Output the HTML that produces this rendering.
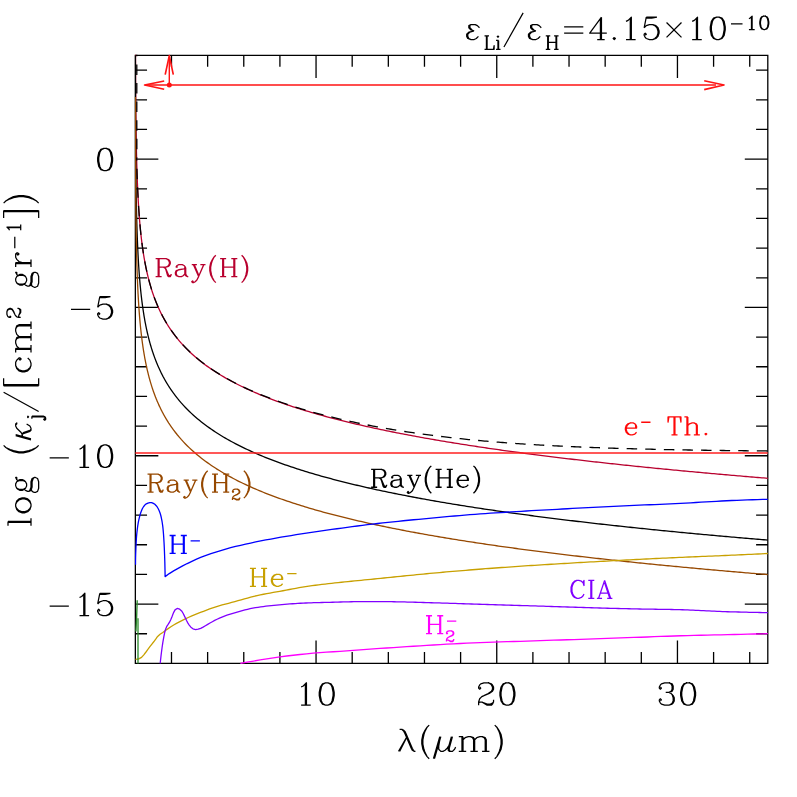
<!DOCTYPE html>
<html><head><meta charset="utf-8"><title>opacity</title>
<style>html,body{margin:0;padding:0;background:#fff;font-family:"Liberation Sans",sans-serif}svg{display:block}</style>
</head><body>
<svg width="797" height="797" viewBox="0 0 797 797">
<rect width="797" height="797" fill="#fff"/>
<defs><clipPath id="c"><rect x="134.75" y="54.699999999999996" width="633.65" height="609.3000000000001"/></clipPath></defs>
<path d="M135.35 55.3H767.8V663.4H135.35ZM171.49 663.4v-11.4M171.49 55.3v11.4M207.63 663.4v-11.4M207.63 55.3v11.4M243.77 663.4v-11.4M243.77 55.3v11.4M279.91 663.4v-11.4M279.91 55.3v11.4M316.05 663.4v-22.8M316.05 55.3v22.8M352.19 663.4v-11.4M352.19 55.3v11.4M388.33 663.4v-11.4M388.33 55.3v11.4M424.47 663.4v-11.4M424.47 55.3v11.4M460.61 663.4v-11.4M460.61 55.3v11.4M496.75 663.4v-22.8M496.75 55.3v22.8M532.89 663.4v-11.4M532.89 55.3v11.4M569.03 663.4v-11.4M569.03 55.3v11.4M605.17 663.4v-11.4M605.17 55.3v11.4M641.31 663.4v-11.4M641.31 55.3v11.4M677.45 663.4v-22.8M677.45 55.3v22.8M713.59 663.4v-11.4M713.59 55.3v11.4M749.73 663.4v-11.4M749.73 55.3v11.4M135.35 633.74h11.7M767.8 633.74h-11.7M135.35 604.07h23M767.8 604.07h-23M135.35 574.41h11.7M767.8 574.41h-11.7M135.35 544.75h11.7M767.8 544.75h-11.7M135.35 515.08h11.7M767.8 515.08h-11.7M135.35 485.42h11.7M767.8 485.42h-11.7M135.35 455.76h23M767.8 455.76h-23M135.35 426.09h11.7M767.8 426.09h-11.7M135.35 396.43h11.7M767.8 396.43h-11.7M135.35 366.77h11.7M767.8 366.77h-11.7M135.35 337.1h11.7M767.8 337.1h-11.7M135.35 307.44h23M767.8 307.44h-23M135.35 277.78h11.7M767.8 277.78h-11.7M135.35 248.11h11.7M767.8 248.11h-11.7M135.35 218.45h11.7M767.8 218.45h-11.7M135.35 188.79h11.7M767.8 188.79h-11.7M135.35 159.12h23M767.8 159.12h-23M135.35 129.46h11.7M767.8 129.46h-11.7M135.35 99.8h11.7M767.8 99.8h-11.7M135.35 70.13h11.7M767.8 70.13h-11.7" stroke="#000" stroke-width="1.3" fill="none" stroke-linecap="butt" stroke-linejoin="miter"/>
<g clip-path="url(#c)">
<path d="M135.41 0.65 135.45 29.53 135.5 47.93 135.54 61.45 135.59 72.16 135.63 81.02 135.68 88.58 135.72 95.17 135.77 101.01 135.81 106.25 135.86 111.01 135.9 115.37 135.95 119.39 135.99 123.12 136.04 126.59 136.08 129.85 136.13 132.91 136.17 135.8 136.22 138.54 136.26 141.14 136.31 143.61 136.35 145.97 136.4 148.23 136.44 150.39 136.48 152.47 136.53 154.47 136.57 156.39 136.62 158.24 136.66 160.03 136.71 161.75 136.75 163.42 136.8 165.04 136.84 166.61 136.89 168.14 136.93 169.62 136.98 171.05 137.02 172.45 137.07 173.82 137.11 175.14 137.16 176.44 137.39 182.62 137.62 188.14 137.85 193.13 138.08 197.68 138.31 201.85 138.54 205.72 138.77 209.31 139 212.67 139.23 215.83 139.46 218.8 139.69 221.61 139.92 224.27 140.15 226.81 140.38 229.22 140.61 231.53 140.84 233.74 141.07 235.85 141.3 237.89 141.54 239.84 141.77 241.73 142 243.55 142.23 245.3 142.46 247 142.69 248.65 142.92 250.24 143.15 251.79 143.38 253.29 143.61 254.74 143.84 256.16 144.07 257.54 144.3 258.89 144.53 260.2 144.76 261.47 144.99 262.72 145.22 263.94 145.45 265.13 145.68 266.29 145.91 267.42 146.14 268.54 146.37 269.62 146.6 270.69 146.83 271.74 147.07 272.76 147.3 273.76 147.53 274.75 147.76 275.71 147.99 276.66 148.22 277.59 148.45 278.51 148.68 279.41 148.91 280.29 149.14 281.16 149.37 282.01 149.6 282.85 149.83 283.68 150.06 284.49 150.29 285.29 150.52 286.08 150.75 286.86 150.98 287.62 151.21 288.38 151.44 289.12 151.67 289.85 151.9 290.58 152.13 291.29 152.36 291.99 152.6 292.68 152.83 293.37 153.06 294.04 153.29 294.71 153.52 295.37 153.75 296.02 153.98 296.66 154.21 297.29 154.44 297.92 154.67 298.54 154.9 299.15 155.13 299.75 155.36 300.35 155.59 300.94 155.82 301.52 156.05 302.1 156.28 302.67 156.51 303.23 156.74 303.79 156.97 304.34 157.2 304.89 157.43 305.43 157.66 305.96 157.9 306.49 158.13 307.02 158.36 307.54 158.59 308.05 158.82 308.56 159.05 309.06 159.28 309.56 159.51 310.05 159.74 310.54 159.97 311.03 160.2 311.51 160.43 311.98 160.66 312.45 160.89 312.92 161.12 313.38 161.35 313.84 161.58 314.3 161.81 314.75 162.04 315.19 162.27 315.64 162.5 316.08 162.73 316.51 162.96 316.94 163.19 317.37 163.43 317.8 163.66 318.22 163.89 318.64 164.12 319.05 164.35 319.46 164.58 319.87 164.81 320.27 165.04 320.68 165.27 321.07 165.5 321.47 165.73 321.86 165.96 322.25 166.19 322.64 166.42 323.02 166.65 323.4 166.88 323.78 167.11 324.15 167.34 324.53 167.57 324.9 167.8 325.26 168.03 325.63 168.26 325.99 168.49 326.35 168.72 326.71 168.96 327.06 169.19 327.41 169.42 327.76 169.65 328.11 169.88 328.46 170.11 328.8 170.34 329.14 170.57 329.48 170.8 329.81 171.03 330.15 171.26 330.48 171.49 330.81 173.48 333.58 175.48 336.2 177.47 338.7 179.47 341.09 181.46 343.37 183.46 345.55 185.45 347.64 187.44 349.65 189.44 351.59 191.43 353.45 193.43 355.25 195.42 356.99 197.42 358.68 199.41 360.31 201.41 361.89 203.4 363.42 205.39 364.91 207.39 366.35 209.38 367.76 211.38 369.13 213.37 370.47 215.37 371.77 217.36 373.04 219.35 374.27 221.35 375.48 223.34 376.66 225.34 377.82 227.33 378.95 229.33 380.05 231.32 381.14 233.31 382.2 235.31 383.23 237.3 384.25 239.3 385.25 241.29 386.23 243.29 387.19 245.28 388.13 247.28 389.06 249.27 389.97 251.26 390.87 253.26 391.74 255.25 392.61 257.25 393.46 259.24 394.29 261.24 395.12 263.23 395.93 265.22 396.73 267.22 397.51 269.21 398.28 271.21 399.05 273.2 399.8 275.2 400.54 277.19 401.27 279.18 401.99 281.18 402.7 283.17 403.4 285.17 404.09 287.16 404.77 289.16 405.44 291.15 406.1 293.15 406.76 295.14 407.41 297.13 408.05 299.13 408.68 301.12 409.3 303.12 409.92 305.11 410.53 307.11 411.13 309.1 411.72 311.09 412.31 313.09 412.89 315.08 413.47 317.08 414.04 319.07 414.6 321.07 415.16 323.06 415.71 325.05 416.25 327.05 416.79 329.04 417.32 331.04 417.85 333.03 418.37 335.03 418.89 337.02 419.4 339.02 419.91 341.01 420.41 343 420.91 345 421.4 346.99 421.89 348.99 422.37 350.98 422.85 352.98 423.33 354.97 423.8 356.96 424.26 358.96 424.72 360.95 425.18 362.95 425.63 364.94 426.08 366.94 426.53 368.93 426.97 370.92 427.41 372.92 427.84 374.91 428.27 376.91 428.7 378.9 429.13 380.9 429.55 382.89 429.96 384.89 430.38 386.88 430.79 388.87 431.19 390.87 431.6 392.86 432 394.86 432.4 396.85 432.79 398.85 433.18 400.84 433.57 402.83 433.96 404.83 434.34 406.82 434.72 408.82 435.1 410.81 435.47 412.81 435.84 414.8 436.21 416.79 436.58 418.79 436.94 420.78 437.3 422.78 437.66 424.77 438.02 426.77 438.37 428.76 438.72 430.76 439.07 432.75 439.42 434.74 439.76 436.74 440.11 438.73 440.45 440.73 440.78 442.72 441.12 444.72 441.45 446.71 441.78 448.7 442.11 450.7 442.44 452.69 442.76 454.69 443.09 456.68 443.41 458.68 443.73 460.67 444.04 462.66 444.36 464.66 444.67 466.65 444.98 468.65 445.29 470.64 445.6 472.64 445.9 474.63 446.21 476.63 446.51 478.62 446.81 480.61 447.11 482.61 447.41 484.6 447.7 486.6 447.99 488.59 448.29 490.59 448.58 492.58 448.86 494.57 449.15 496.57 449.44 498.56 449.72 500.56 450 502.55 450.28 504.55 450.56 506.54 450.84 508.53 451.12 510.53 451.39 512.52 451.66 514.52 451.94 516.51 452.21 518.51 452.48 520.5 452.74 522.5 453.01 524.49 453.27 526.48 453.54 528.48 453.8 530.47 454.06 532.47 454.32 534.46 454.58 536.46 454.83 538.45 455.09 540.44 455.34 542.44 455.6 544.43 455.85 546.43 456.1 548.42 456.35 550.42 456.6 552.41 456.84 554.4 457.09 556.4 457.33 558.39 457.58 560.39 457.82 562.38 458.06 564.38 458.3 566.37 458.54 568.37 458.78 570.36 459.02 572.35 459.25 574.35 459.49 576.34 459.72 578.34 459.95 580.33 460.18 582.33 460.41 584.32 460.64 586.31 460.87 588.31 461.1 590.3 461.33 592.3 461.55 594.29 461.78 596.29 462 598.28 462.22 600.27 462.44 602.27 462.66 604.26 462.88 606.26 463.1 608.25 463.32 610.25 463.54 612.24 463.75 614.24 463.97 616.23 464.18 618.22 464.39 620.22 464.61 622.21 464.82 624.21 465.03 626.2 465.24 628.2 465.45 630.19 465.66 632.18 465.86 634.18 466.07 636.17 466.28 638.17 466.48 640.16 466.68 642.16 466.89 644.15 467.09 646.14 467.29 648.14 467.49 650.13 467.69 652.13 467.89 654.12 468.09 656.12 468.29 658.11 468.48 660.11 468.68 662.1 468.88 664.09 469.07 666.09 469.27 668.08 469.46 670.08 469.65 672.07 469.84 674.07 470.03 676.06 470.22 678.05 470.41 680.05 470.6 682.04 470.79 684.04 470.98 686.03 471.17 688.03 471.35 690.02 471.54 692.01 471.72 694.01 471.91 696 472.09 698 472.27 699.99 472.46 701.99 472.64 703.98 472.82 705.98 473 707.97 473.18 709.96 473.36 711.96 473.54 713.95 473.71 715.95 473.89 717.94 474.07 719.94 474.24 721.93 474.42 723.92 474.6 725.92 474.77 727.91 474.94 729.91 475.12 731.9 475.29 733.9 475.46 735.89 475.63 737.88 475.8 739.88 475.97 741.87 476.14 743.87 476.31 745.86 476.48 747.86 476.65 749.85 476.82 751.85 476.98 753.84 477.15 755.83 477.32 757.83 477.48 759.82 477.65 761.82 477.81 763.81 477.97 765.81 478.14 767.8 478.3" stroke="#b8002e" stroke-width="1.3" fill="none" stroke-linejoin="round" />
<path d="M135.41 55.29 135.45 84.6 135.5 103.27 135.54 117 135.59 127.87 135.63 136.86 135.68 144.53 135.72 151.22 135.77 157.15 135.81 162.47 135.86 167.31 135.9 171.73 135.95 175.81 135.99 179.59 136.04 183.12 136.08 186.42 136.13 189.53 136.17 192.47 136.22 195.24 136.26 197.88 136.31 200.39 136.35 202.79 136.4 205.08 136.44 207.28 136.48 209.38 136.53 211.41 136.57 213.36 136.62 215.24 136.66 217.05 136.71 218.81 136.75 220.5 136.8 222.15 136.84 223.74 136.89 225.28 136.93 226.79 136.98 228.25 137.02 229.67 137.07 231.05 137.11 232.4 137.16 233.71 137.39 239.99 137.62 245.59 137.85 250.65 138.08 255.27 138.31 259.51 138.54 263.43 138.77 267.08 139 270.49 139.23 273.69 139.46 276.71 139.69 279.56 139.92 282.26 140.15 284.83 140.38 287.29 140.61 289.63 140.84 291.87 141.07 294.02 141.3 296.08 141.54 298.07 141.77 299.98 142 301.83 142.23 303.61 142.46 305.33 142.69 307 142.92 308.62 143.15 310.19 143.38 311.71 143.61 313.19 143.84 314.63 144.07 316.03 144.3 317.39 144.53 318.72 144.76 320.02 144.99 321.29 145.22 322.52 145.45 323.73 145.68 324.91 145.91 326.06 146.14 327.19 146.37 328.29 146.6 329.38 146.83 330.44 147.07 331.48 147.3 332.49 147.53 333.49 147.76 334.47 147.99 335.44 148.22 336.38 148.45 337.31 148.68 338.22 148.91 339.12 149.14 340 149.37 340.87 149.6 341.72 149.83 342.56 150.06 343.38 150.29 344.2 150.52 345 150.75 345.79 150.98 346.56 151.21 347.33 151.44 348.08 151.67 348.83 151.9 349.56 152.13 350.28 152.36 351 152.6 351.7 152.83 352.39 153.06 353.08 153.29 353.75 153.52 354.42 153.75 355.08 153.98 355.73 154.21 356.38 154.44 357.01 154.67 357.64 154.9 358.26 155.13 358.87 155.36 359.48 155.59 360.08 155.82 360.67 156.05 361.25 156.28 361.83 156.51 362.41 156.74 362.97 156.97 363.53 157.2 364.09 157.43 364.64 157.66 365.18 157.9 365.72 158.13 366.25 158.36 366.77 158.59 367.29 158.82 367.81 159.05 368.32 159.28 368.83 159.51 369.33 159.74 369.83 159.97 370.32 160.2 370.81 160.43 371.29 160.66 371.77 160.89 372.24 161.12 372.71 161.35 373.18 161.58 373.64 161.81 374.09 162.04 374.55 162.27 375 162.5 375.44 162.73 375.89 162.96 376.32 163.19 376.76 163.43 377.19 163.66 377.62 163.89 378.04 164.12 378.46 164.35 378.88 164.58 379.29 164.81 379.7 165.04 380.11 165.27 380.52 165.5 380.92 165.73 381.31 165.96 381.71 166.19 382.1 166.42 382.49 166.65 382.88 166.88 383.26 167.11 383.64 167.34 384.02 167.57 384.4 167.8 384.77 168.03 385.14 168.26 385.51 168.49 385.87 168.72 386.23 168.96 386.59 169.19 386.95 169.42 387.31 169.65 387.66 169.88 388.01 170.11 388.36 170.34 388.7 170.57 389.05 170.8 389.39 171.03 389.73 171.26 390.06 171.49 390.4 173.48 393.21 175.48 395.87 177.47 398.41 179.47 400.83 181.46 403.14 183.46 405.36 185.45 407.48 187.44 409.52 189.44 411.49 191.43 413.38 193.43 415.21 195.42 416.97 197.42 418.68 199.41 420.34 201.41 421.94 203.4 423.5 205.39 425.01 207.39 426.48 209.38 427.9 211.38 429.29 213.37 430.65 215.37 431.97 217.36 433.26 219.35 434.51 221.35 435.74 223.34 436.94 225.34 438.11 227.33 439.26 229.33 440.38 231.32 441.48 233.31 442.55 235.31 443.61 237.3 444.64 239.3 445.65 241.29 446.65 243.29 447.62 245.28 448.58 247.28 449.52 249.27 450.45 251.26 451.35 253.26 452.25 255.25 453.12 257.25 453.99 259.24 454.83 261.24 455.67 263.23 456.49 265.22 457.3 267.22 458.1 269.21 458.88 271.21 459.66 273.2 460.42 275.2 461.17 277.19 461.91 279.18 462.64 281.18 463.36 283.17 464.07 285.17 464.77 287.16 465.47 289.16 466.15 291.15 466.82 293.15 467.49 295.14 468.14 297.13 468.79 299.13 469.43 301.12 470.07 303.12 470.69 305.11 471.31 307.11 471.92 309.1 472.52 311.09 473.12 313.09 473.71 315.08 474.3 317.08 474.87 319.07 475.44 321.07 476.01 323.06 476.57 325.05 477.12 327.05 477.67 329.04 478.21 331.04 478.74 333.03 479.27 335.03 479.8 337.02 480.32 339.02 480.83 341.01 481.34 343 481.85 345 482.35 346.99 482.84 348.99 483.33 350.98 483.82 352.98 484.3 354.97 484.78 356.96 485.25 358.96 485.72 360.95 486.18 362.95 486.64 364.94 487.1 366.94 487.55 368.93 488 370.92 488.45 372.92 488.89 374.91 489.32 376.91 489.76 378.9 490.19 380.9 490.61 382.89 491.04 384.89 491.46 386.88 491.87 388.87 492.29 390.87 492.7 392.86 493.1 394.86 493.51 396.85 493.91 398.85 494.3 400.84 494.7 402.83 495.09 404.83 495.48 406.82 495.86 408.82 496.25 410.81 496.63 412.81 497.01 414.8 497.38 416.79 497.75 418.79 498.12 420.78 498.49 422.78 498.85 424.77 499.21 426.77 499.57 428.76 499.93 430.76 500.28 432.75 500.64 434.74 500.99 436.74 501.33 438.73 501.68 440.73 502.02 442.72 502.36 444.72 502.7 446.71 503.03 448.7 503.37 450.7 503.7 452.69 504.03 454.69 504.36 456.68 504.68 458.68 505.01 460.67 505.33 462.66 505.65 464.66 505.97 466.65 506.28 468.65 506.6 470.64 506.91 472.64 507.22 474.63 507.53 476.63 507.83 478.62 508.14 480.61 508.44 482.61 508.74 484.6 509.04 486.6 509.34 488.59 509.64 490.59 509.93 492.58 510.22 494.57 510.51 496.57 510.8 498.56 511.09 500.56 511.38 502.55 511.66 504.55 511.95 506.54 512.23 508.53 512.51 510.53 512.79 512.52 513.06 514.52 513.34 516.51 513.61 518.51 513.89 520.5 514.16 522.5 514.43 524.49 514.7 526.48 514.97 528.48 515.23 530.47 515.5 532.47 515.76 534.46 516.02 536.46 516.28 538.45 516.54 540.44 516.8 542.44 517.06 544.43 517.31 546.43 517.57 548.42 517.82 550.42 518.07 552.41 518.32 554.4 518.57 556.4 518.82 558.39 519.07 560.39 519.31 562.38 519.56 564.38 519.8 566.37 520.04 568.37 520.29 570.36 520.53 572.35 520.77 574.35 521 576.34 521.24 578.34 521.48 580.33 521.71 582.33 521.95 584.32 522.18 586.31 522.41 588.31 522.64 590.3 522.87 592.3 523.1 594.29 523.33 596.29 523.55 598.28 523.78 600.27 524 602.27 524.23 604.26 524.45 606.26 524.67 608.25 524.89 610.25 525.11 612.24 525.33 614.24 525.55 616.23 525.77 618.22 525.99 620.22 526.2 622.21 526.42 624.21 526.63 626.2 526.84 628.2 527.06 630.19 527.27 632.18 527.48 634.18 527.69 636.17 527.9 638.17 528.1 640.16 528.31 642.16 528.52 644.15 528.72 646.14 528.93 648.14 529.13 650.13 529.33 652.13 529.54 654.12 529.74 656.12 529.94 658.11 530.14 660.11 530.34 662.1 530.53 664.09 530.73 666.09 530.93 668.08 531.13 670.08 531.32 672.07 531.52 674.07 531.71 676.06 531.9 678.05 532.1 680.05 532.29 682.04 532.48 684.04 532.67 686.03 532.86 688.03 533.05 690.02 533.24 692.01 533.42 694.01 533.61 696 533.8 698 533.98 699.99 534.17 701.99 534.35 703.98 534.54 705.98 534.72 707.97 534.9 709.96 535.08 711.96 535.27 713.95 535.45 715.95 535.63 717.94 535.81 719.94 535.98 721.93 536.16 723.92 536.34 725.92 536.52 727.91 536.69 729.91 536.87 731.9 537.04 733.9 537.22 735.89 537.39 737.88 537.57 739.88 537.74 741.87 537.91 743.87 538.08 745.86 538.25 747.86 538.42 749.85 538.59 751.85 538.76 753.84 538.93 755.83 539.1 757.83 539.27 759.82 539.44 761.82 539.6 763.81 539.77 765.81 539.93 767.8 540.1" stroke="#000" stroke-width="1.3" fill="none" stroke-linejoin="round" />
<path d="M135.41 96.95 135.45 125.83 135.5 144.23 135.54 157.75 135.59 168.46 135.63 177.32 135.68 184.88 135.72 191.47 135.77 197.31 135.81 202.55 135.86 207.31 135.9 211.67 135.95 215.69 135.99 219.42 136.04 222.89 136.08 226.15 136.13 229.21 136.17 232.1 136.22 234.84 136.26 237.44 136.31 239.91 136.35 242.27 136.4 244.53 136.44 246.69 136.48 248.77 136.53 250.77 136.57 252.69 136.62 254.54 136.66 256.33 136.71 258.05 136.75 259.72 136.8 261.34 136.84 262.91 136.89 264.44 136.93 265.92 136.98 267.35 137.02 268.75 137.07 270.12 137.11 271.44 137.16 272.74 137.39 278.92 137.62 284.44 137.85 289.43 138.08 293.98 138.31 298.15 138.54 302.02 138.77 305.61 139 308.97 139.23 312.13 139.46 315.1 139.69 317.91 139.92 320.57 140.15 323.11 140.38 325.52 140.61 327.83 140.84 330.04 141.07 332.15 141.3 334.19 141.54 336.14 141.77 338.03 142 339.85 142.23 341.6 142.46 343.3 142.69 344.95 142.92 346.54 143.15 348.09 143.38 349.59 143.61 351.04 143.84 352.46 144.07 353.84 144.3 355.19 144.53 356.5 144.76 357.77 144.99 359.02 145.22 360.24 145.45 361.43 145.68 362.59 145.91 363.72 146.14 364.84 146.37 365.92 146.6 366.99 146.83 368.04 147.07 369.06 147.3 370.06 147.53 371.05 147.76 372.01 147.99 372.96 148.22 373.89 148.45 374.81 148.68 375.71 148.91 376.59 149.14 377.46 149.37 378.31 149.6 379.15 149.83 379.98 150.06 380.79 150.29 381.59 150.52 382.38 150.75 383.16 150.98 383.92 151.21 384.68 151.44 385.42 151.67 386.15 151.9 386.88 152.13 387.59 152.36 388.29 152.6 388.98 152.83 389.67 153.06 390.34 153.29 391.01 153.52 391.67 153.75 392.32 153.98 392.96 154.21 393.59 154.44 394.22 154.67 394.84 154.9 395.45 155.13 396.05 155.36 396.65 155.59 397.24 155.82 397.82 156.05 398.4 156.28 398.97 156.51 399.53 156.74 400.09 156.97 400.64 157.2 401.19 157.43 401.73 157.66 402.26 157.9 402.79 158.13 403.32 158.36 403.84 158.59 404.35 158.82 404.86 159.05 405.36 159.28 405.86 159.51 406.35 159.74 406.84 159.97 407.33 160.2 407.81 160.43 408.28 160.66 408.75 160.89 409.22 161.12 409.68 161.35 410.14 161.58 410.6 161.81 411.05 162.04 411.49 162.27 411.94 162.5 412.38 162.73 412.81 162.96 413.24 163.19 413.67 163.43 414.1 163.66 414.52 163.89 414.94 164.12 415.35 164.35 415.76 164.58 416.17 164.81 416.57 165.04 416.98 165.27 417.37 165.5 417.77 165.73 418.16 165.96 418.55 166.19 418.94 166.42 419.32 166.65 419.7 166.88 420.08 167.11 420.45 167.34 420.83 167.57 421.2 167.8 421.56 168.03 421.93 168.26 422.29 168.49 422.65 168.72 423.01 168.96 423.36 169.19 423.71 169.42 424.06 169.65 424.41 169.88 424.76 170.11 425.1 170.34 425.44 170.57 425.78 170.8 426.11 171.03 426.45 171.26 426.78 171.49 427.11 173.48 429.88 175.48 432.5 177.47 435 179.47 437.39 181.46 439.67 183.46 441.85 185.45 443.94 187.44 445.95 189.44 447.89 191.43 449.75 193.43 451.55 195.42 453.29 197.42 454.98 199.41 456.61 201.41 458.19 203.4 459.72 205.39 461.21 207.39 462.65 209.38 464.06 211.38 465.43 213.37 466.77 215.37 468.07 217.36 469.34 219.35 470.57 221.35 471.78 223.34 472.96 225.34 474.12 227.33 475.25 229.33 476.35 231.32 477.44 233.31 478.5 235.31 479.53 237.3 480.55 239.3 481.55 241.29 482.53 243.29 483.49 245.28 484.43 247.28 485.36 249.27 486.27 251.26 487.17 253.26 488.04 255.25 488.91 257.25 489.76 259.24 490.59 261.24 491.42 263.23 492.23 265.22 493.03 267.22 493.81 269.21 494.58 271.21 495.35 273.2 496.1 275.2 496.84 277.19 497.57 279.18 498.29 281.18 499 283.17 499.7 285.17 500.39 287.16 501.07 289.16 501.74 291.15 502.4 293.15 503.06 295.14 503.71 297.13 504.35 299.13 504.98 301.12 505.6 303.12 506.22 305.11 506.83 307.11 507.43 309.1 508.02 311.09 508.61 313.09 509.19 315.08 509.77 317.08 510.34 319.07 510.9 321.07 511.46 323.06 512.01 325.05 512.55 327.05 513.09 329.04 513.62 331.04 514.15 333.03 514.67 335.03 515.19 337.02 515.7 339.02 516.21 341.01 516.71 343 517.21 345 517.7 346.99 518.19 348.99 518.67 350.98 519.15 352.98 519.63 354.97 520.1 356.96 520.56 358.96 521.02 360.95 521.48 362.95 521.93 364.94 522.38 366.94 522.83 368.93 523.27 370.92 523.71 372.92 524.14 374.91 524.57 376.91 525 378.9 525.43 380.9 525.85 382.89 526.26 384.89 526.68 386.88 527.09 388.87 527.49 390.87 527.9 392.86 528.3 394.86 528.7 396.85 529.09 398.85 529.48 400.84 529.87 402.83 530.26 404.83 530.64 406.82 531.02 408.82 531.4 410.81 531.77 412.81 532.14 414.8 532.51 416.79 532.88 418.79 533.24 420.78 533.6 422.78 533.96 424.77 534.32 426.77 534.67 428.76 535.02 430.76 535.37 432.75 535.72 434.74 536.06 436.74 536.41 438.73 536.75 440.73 537.08 442.72 537.42 444.72 537.75 446.71 538.08 448.7 538.41 450.7 538.74 452.69 539.06 454.69 539.39 456.68 539.71 458.68 540.03 460.67 540.34 462.66 540.66 464.66 540.97 466.65 541.28 468.65 541.59 470.64 541.9 472.64 542.2 474.63 542.51 476.63 542.81 478.62 543.11 480.61 543.41 482.61 543.71 484.6 544 486.6 544.29 488.59 544.59 490.59 544.88 492.58 545.16 494.57 545.45 496.57 545.74 498.56 546.02 500.56 546.3 502.55 546.58 504.55 546.86 506.54 547.14 508.53 547.42 510.53 547.69 512.52 547.96 514.52 548.24 516.51 548.51 518.51 548.78 520.5 549.04 522.5 549.31 524.49 549.57 526.48 549.84 528.48 550.1 530.47 550.36 532.47 550.62 534.46 550.88 536.46 551.13 538.45 551.39 540.44 551.64 542.44 551.9 544.43 552.15 546.43 552.4 548.42 552.65 550.42 552.9 552.41 553.14 554.4 553.39 556.4 553.63 558.39 553.88 560.39 554.12 562.38 554.36 564.38 554.6 566.37 554.84 568.37 555.08 570.36 555.32 572.35 555.55 574.35 555.79 576.34 556.02 578.34 556.25 580.33 556.48 582.33 556.71 584.32 556.94 586.31 557.17 588.31 557.4 590.3 557.63 592.3 557.85 594.29 558.08 596.29 558.3 598.28 558.52 600.27 558.74 602.27 558.96 604.26 559.18 606.26 559.4 608.25 559.62 610.25 559.84 612.24 560.05 614.24 560.27 616.23 560.48 618.22 560.69 620.22 560.91 622.21 561.12 624.21 561.33 626.2 561.54 628.2 561.75 630.19 561.96 632.18 562.16 634.18 562.37 636.17 562.58 638.17 562.78 640.16 562.98 642.16 563.19 644.15 563.39 646.14 563.59 648.14 563.79 650.13 563.99 652.13 564.19 654.12 564.39 656.12 564.59 658.11 564.78 660.11 564.98 662.1 565.18 664.09 565.37 666.09 565.57 668.08 565.76 670.08 565.95 672.07 566.14 674.07 566.33 676.06 566.52 678.05 566.71 680.05 566.9 682.04 567.09 684.04 567.28 686.03 567.47 688.03 567.65 690.02 567.84 692.01 568.02 694.01 568.21 696 568.39 698 568.57 699.99 568.76 701.99 568.94 703.98 569.12 705.98 569.3 707.97 569.48 709.96 569.66 711.96 569.84 713.95 570.01 715.95 570.19 717.94 570.37 719.94 570.54 721.93 570.72 723.92 570.9 725.92 571.07 727.91 571.24 729.91 571.42 731.9 571.59 733.9 571.76 735.89 571.93 737.88 572.1 739.88 572.27 741.87 572.44 743.87 572.61 745.86 572.78 747.86 572.95 749.85 573.12 751.85 573.28 753.84 573.45 755.83 573.62 757.83 573.78 759.82 573.95 761.82 574.11 763.81 574.27 765.81 574.44 767.8 574.6" stroke="#964800" stroke-width="1.3" fill="none" stroke-linejoin="round" />
<path d="M135.35 453 767.8 453" stroke="#ff2020" stroke-width="1.6" fill="none" stroke-linejoin="round" />
<path d="M135.5 564.7 135.51 562.85 135.52 560.99 135.55 559.14 135.59 557.29 135.64 555.43 135.7 553.58 135.77 551.73 135.84 549.88 135.92 548.03 136 546.19 136.09 544.34 136.18 542.49 136.28 540.64 136.38 538.8 136.51 536.95 136.66 535.1 136.84 533.26 137.04 531.41 137.25 529.57 137.48 527.74 137.73 525.91 138.02 524.07 138.35 522.23 138.71 520.41 139.11 518.59 139.54 516.8 140.02 515.03 140.56 513.24 141.18 511.43 141.9 509.66 142.73 507.99 143.66 506.49 144.83 505.11 146.33 503.86 147.95 503.08 149.78 502.58 151.6 502.63 153.36 503.36 154.85 504.33 156.2 505.68 157.35 507.21 158.26 508.75 159.07 510.42 159.78 512.17 160.38 513.96 160.86 515.73 161.28 517.51 161.65 519.33 161.99 521.15 162.3 522.99 162.56 524.84 162.8 526.68 163 528.52 163.18 530.36 163.34 532.2 163.49 534.05 163.62 535.9 163.75 537.75 163.86 539.6 163.97 541.44 164.07 543.29 164.17 545.14 164.26 546.99 164.34 548.84 164.42 550.69 164.49 552.54 164.56 554.39 164.63 556.24 164.69 558.09 164.75 559.94 164.81 561.79 164.86 563.64 164.9 565.49 164.94 567.34 164.98 569.2 165.02 571.05 165.05 572.9 165.08 574.75 165.1 576.6 169.28 573.59 173.62 570.85 178.11 568.33 182.64 565.9 187.22 563.54 191.85 561.3 196.53 559.18 201.27 557.16 206.07 555.32 210.93 553.66 215.84 552.11 220.76 550.59 225.69 549.11 230.64 547.74 235.62 546.47 240.62 545.27 245.64 544.12 250.67 543.02 255.7 541.96 260.74 540.94 265.79 539.97 270.85 539.03 275.91 538.12 280.98 537.23 286.05 536.36 291.12 535.52 296.2 534.69 301.28 533.88 306.36 533.1 311.45 532.33 316.54 531.59 321.63 530.86 326.72 530.15 331.82 529.45 336.92 528.75 342.01 528.05 347.11 527.36 352.21 526.68 357.31 526.01 362.41 525.35 367.51 524.7 372.62 524.08 377.73 523.48 382.84 522.91 387.95 522.35 393.06 521.81 398.18 521.28 403.3 520.77 408.42 520.27 413.54 519.77 418.66 519.29 423.78 518.81 428.9 518.34 434.02 517.87 439.15 517.4 444.27 516.93 449.39 516.47 454.52 516.01 459.64 515.57 464.77 515.14 469.89 514.72 475.02 514.32 480.15 513.93 485.28 513.57 490.41 513.22 495.54 512.88 500.67 512.55 505.81 512.23 510.94 511.91 516.08 511.61 521.21 511.31 526.35 511.01 531.48 510.72 536.62 510.42 541.75 510.13 546.89 509.85 552.02 509.57 557.16 509.29 562.3 509.01 567.43 508.74 572.57 508.47 577.7 508.2 582.84 507.94 587.98 507.68 593.12 507.42 598.25 507.16 603.39 506.91 608.53 506.65 613.66 506.4 618.8 506.15 623.94 505.91 629.08 505.66 634.21 505.42 639.35 505.19 644.49 504.97 649.63 504.75 654.77 504.53 659.91 504.31 665.05 504.09 670.19 503.86 675.32 503.63 680.46 503.38 685.6 503.11 690.73 502.82 695.87 502.51 701 502.2 706.14 501.88 711.27 501.58 716.41 501.28 721.54 501 726.68 500.75 731.82 500.52 736.95 500.32 742.09 500.12 747.23 499.93 752.37 499.75 757.52 499.59 762.66 499.44 767.8 499.3" stroke="#0000ff" stroke-width="1.3" fill="none" stroke-linejoin="round" />
<path d="M135.5 659.3 138.77 658.94 141.55 657.38 143.81 654.87 145.79 652.26 147.69 649.55 149.69 646.94 151.71 644.35 153.74 641.77 155.72 639.13 157.62 636.43 160.04 634.29 162.79 632.42 165.45 630.49 168.14 628.6 170.88 626.78 173.67 625.04 176.51 623.39 179.4 621.82 182.33 620.31 185.28 618.87 188.27 617.5 191.29 616.19 194.32 614.93 197.36 613.68 200.42 612.47 203.49 611.28 206.56 610.13 209.65 608.98 212.74 607.87 215.86 606.81 218.99 605.84 222.16 604.96 225.34 604.13 228.53 603.3 231.7 602.44 234.87 601.56 238.03 600.68 241.2 599.8 244.37 598.92 247.53 598.02 250.7 597.13 253.88 596.29 257.08 595.55 260.29 594.87 263.52 594.24 266.75 593.63 269.99 593.04 273.23 592.48 276.47 591.93 279.71 591.36 282.94 590.76 286.16 590.13 289.39 589.49 292.62 588.87 295.85 588.28 299.09 587.7 302.33 587.14 305.57 586.62 308.83 586.13 312.08 585.68 315.34 585.24 318.6 584.82 321.87 584.43 325.13 584.05 328.4 583.68 331.67 583.32 334.93 582.96 338.2 582.62 341.47 582.27 344.74 581.94 348.01 581.6 351.28 581.27 354.56 580.94 357.83 580.62 361.1 580.29 364.37 579.97 367.64 579.65 370.91 579.33 374.19 579 377.46 578.67 380.73 578.35 384 578.02 387.27 577.68 390.54 577.35 393.81 577.02 397.08 576.68 400.35 576.35 403.62 576.02 406.9 575.69 410.17 575.36 413.44 575.03 416.71 574.71 419.98 574.39 423.25 574.07 426.53 573.76 429.8 573.46 433.07 573.15 436.35 572.86 439.62 572.56 442.9 572.27 446.17 571.97 449.45 571.68 452.72 571.4 456 571.12 459.27 570.84 462.55 570.56 465.82 570.29 469.1 570.02 472.38 569.75 475.66 569.49 478.93 569.23 482.21 568.98 485.49 568.72 488.77 568.48 492.04 568.23 495.32 567.99 498.6 567.75 501.88 567.51 505.16 567.28 508.44 567.05 511.72 566.82 515 566.59 518.28 566.37 521.56 566.15 524.84 565.94 528.12 565.72 531.4 565.51 534.68 565.3 537.96 565.09 541.24 564.89 544.53 564.68 547.81 564.48 551.09 564.27 554.37 564.07 557.65 563.88 560.93 563.68 564.21 563.48 567.5 563.29 570.78 563.09 574.06 562.9 577.34 562.71 580.63 562.52 583.91 562.33 587.19 562.15 590.47 561.96 593.76 561.78 597.04 561.59 600.32 561.41 603.6 561.23 606.89 561.05 610.17 560.87 613.45 560.7 616.73 560.52 620.02 560.35 623.3 560.17 626.58 560 629.87 559.83 633.15 559.66 636.43 559.49 639.72 559.32 643 559.16 646.28 558.99 649.57 558.83 652.85 558.67 656.13 558.51 659.42 558.35 662.7 558.2 665.99 558.04 669.27 557.89 672.55 557.74 675.84 557.59 679.12 557.44 682.41 557.29 685.69 557.15 688.98 557.01 692.26 556.87 695.55 556.73 698.83 556.6 702.12 556.47 705.4 556.33 708.68 556.2 711.97 556.07 715.25 555.93 718.54 555.79 721.82 555.66 725.11 555.52 728.39 555.37 731.68 555.22 734.96 555.08 738.25 554.93 741.53 554.77 744.81 554.62 748.1 554.46 751.38 554.31 754.67 554.15 757.95 553.99 761.23 553.83 764.52 553.66 767.8 553.5" stroke="#c8a000" stroke-width="1.3" fill="none" stroke-linejoin="round" />
<path d="M160.2 663.4 160.48 660.74 160.77 658.09 161.08 655.43 161.4 652.78 161.74 650.13 162.09 647.49 162.47 644.84 162.88 642.2 163.33 639.57 163.82 636.94 164.31 634.31 164.87 631.7 165.6 629.13 166.62 626.67 168.13 624.46 169.52 622.18 170.72 619.79 171.8 617.35 172.72 614.82 173.72 612.35 175.04 609.9 177.16 608.48 179.7 609.17 181.61 610.95 183.08 613.23 184.25 615.64 185.38 618.07 186.54 620.48 187.78 622.84 189.21 625.12 190.9 627.2 192.97 628.82 195.57 629.59 198.21 629.22 200.7 628.37 203.07 627.1 205.41 625.74 207.72 624.4 210 623.02 212.33 621.7 214.69 620.44 217.07 619.25 219.49 618.12 221.95 617.06 224.43 616.08 226.95 615.18 229.49 614.35 232.04 613.59 234.61 612.82 237.18 612.07 239.76 611.33 242.34 610.62 244.93 609.94 247.53 609.31 250.14 608.72 252.75 608.19 255.36 607.72 257.99 607.31 260.63 606.92 263.27 606.56 265.92 606.22 268.58 605.9 271.24 605.6 273.9 605.33 276.57 605.06 279.23 604.82 281.89 604.59 284.55 604.37 287.21 604.15 289.88 603.94 292.54 603.75 295.21 603.57 297.87 603.4 300.54 603.24 303.21 603.11 305.88 602.99 308.55 602.89 311.21 602.8 313.88 602.72 316.55 602.64 319.22 602.57 321.9 602.5 324.57 602.44 327.24 602.37 329.91 602.3 332.58 602.23 335.25 602.15 337.92 602.07 340.59 601.99 343.26 601.92 345.93 601.85 348.6 601.79 351.27 601.74 353.94 601.71 356.61 601.69 359.28 601.67 361.95 601.66 364.62 601.64 367.3 601.63 369.97 601.62 372.64 601.61 375.31 601.6 377.98 601.6 380.65 601.6 383.32 601.61 385.99 601.63 388.66 601.65 391.33 601.69 394.01 601.73 396.68 601.78 399.35 601.84 402.02 601.9 404.69 601.97 407.36 602.04 410.03 602.12 412.7 602.19 415.37 602.27 418.04 602.35 420.71 602.43 423.38 602.51 426.05 602.58 428.72 602.66 431.39 602.73 434.06 602.8 436.73 602.87 439.4 602.95 442.07 603.03 444.74 603.12 447.41 603.2 450.08 603.29 452.75 603.38 455.42 603.47 458.09 603.55 460.76 603.65 463.43 603.74 466.1 603.83 468.77 603.92 471.44 604 474.11 604.09 476.78 604.18 479.45 604.26 482.12 604.35 484.79 604.43 487.46 604.51 490.13 604.59 492.8 604.68 495.47 604.76 498.14 604.84 500.81 604.92 503.48 605 506.15 605.08 508.82 605.16 511.49 605.24 514.15 605.32 516.82 605.4 519.49 605.48 522.16 605.56 524.83 605.64 527.5 605.72 530.17 605.81 532.84 605.89 535.51 605.97 538.18 606.05 540.85 606.13 543.52 606.22 546.19 606.3 548.86 606.39 551.53 606.48 554.2 606.56 556.87 606.65 559.54 606.74 562.21 606.82 564.88 606.91 567.55 607 570.22 607.08 572.89 607.17 575.56 607.25 578.23 607.34 580.9 607.42 583.57 607.51 586.24 607.59 588.91 607.68 591.58 607.76 594.25 607.84 596.92 607.92 599.59 608 602.26 608.08 604.93 608.15 607.6 608.23 610.27 608.3 612.94 608.37 615.61 608.44 618.28 608.51 620.95 608.58 623.62 608.64 626.29 608.71 628.96 608.77 631.63 608.83 634.3 608.88 636.97 608.93 639.64 608.98 642.32 609.03 644.99 609.07 647.66 609.11 650.33 609.15 653 609.2 655.67 609.24 658.34 609.28 661.01 609.32 663.68 609.36 666.35 609.41 669.02 609.46 671.7 609.51 674.37 609.57 677.04 609.63 679.71 609.69 682.37 609.77 685.04 609.85 687.71 609.95 690.38 610.05 693.05 610.17 695.72 610.29 698.39 610.41 701.06 610.54 703.72 610.67 706.39 610.8 709.06 610.94 711.73 611.07 714.4 611.19 717.07 611.32 719.74 611.43 722.4 611.54 725.07 611.64 727.74 611.73 730.41 611.81 733.08 611.88 735.75 611.96 738.42 612.02 741.09 612.09 743.76 612.16 746.43 612.22 749.1 612.28 751.77 612.33 754.44 612.39 757.12 612.44 759.79 612.48 762.46 612.53 765.13 612.57 767.8 612.6" stroke="#8000ff" stroke-width="1.3" fill="none" stroke-linejoin="round" />
<path d="M240.4 663.4 246.99 662.22 253.58 661.08 260.18 659.97 266.78 658.88 273.39 657.82 280.01 656.86 286.65 656.01 293.3 655.24 299.95 654.51 306.6 653.78 313.26 653.12 319.93 652.59 326.6 652.14 333.28 651.74 339.96 651.3 346.64 650.82 353.31 650.33 359.98 649.83 366.66 649.34 373.33 648.87 380.01 648.42 386.68 647.98 393.36 647.54 400.04 647.11 406.72 646.68 413.39 646.25 420.07 645.83 426.75 645.42 433.43 645.02 440.11 644.61 446.79 644.22 453.47 643.84 460.15 643.49 466.84 643.18 473.52 642.88 480.21 642.61 486.9 642.37 493.58 642.14 500.27 641.93 506.96 641.72 513.65 641.51 520.34 641.31 527.02 641.1 533.71 640.88 540.4 640.66 547.09 640.43 553.78 640.21 560.46 639.99 567.15 639.76 573.84 639.53 580.53 639.31 587.21 639.08 593.9 638.85 600.59 638.63 607.28 638.4 613.96 638.17 620.65 637.94 627.34 637.71 634.03 637.47 640.71 637.23 647.4 636.98 654.09 636.72 660.77 636.47 667.46 636.23 674.15 635.99 680.84 635.77 687.52 635.57 694.21 635.39 700.9 635.23 707.59 635.08 714.28 634.94 720.97 634.8 727.66 634.65 734.35 634.5 741.04 634.34 747.73 634.18 754.42 634.02 761.11 633.86 767.8 633.7" stroke="#ff00ff" stroke-width="1.3" fill="none" stroke-linejoin="round" />
<path d="M138 663.4 138 618.3" stroke="#2a8a2a" stroke-width="1.3" fill="none" stroke-linejoin="round" />
<path d="M137.2 600.3 136.6 618 135.9 631.5" stroke="#2e8b2e" stroke-width="1.4" fill="none" stroke-linejoin="round" />
</g>
<defs><clipPath id="cA"><rect x="134.75" y="54.699999999999996" width="40" height="103.3"/></clipPath><clipPath id="cB"><rect x="134.75" y="158" width="633.65" height="506.0"/></clipPath></defs>
<g clip-path="url(#cB)">
<path d="M136.45 53.3 136.5 100 136.6 140 136.75 163.27 136.8 164.88 136.84 166.45 136.89 167.98 136.93 169.46 136.98 170.9 137.02 172.3 137.07 173.66 137.11 174.99 137.16 176.28 137.39 182.47 137.62 187.99 137.85 192.97 138.08 197.52 138.31 201.7 138.54 205.56 138.77 209.16 139 212.52 139.23 215.67 139.46 218.65 139.69 221.46 139.92 224.12 140.15 226.66 140.38 229.07 140.61 231.38 140.84 233.59 141.07 235.71 141.3 237.74 141.54 239.7 141.77 241.58 142 243.4 142.23 245.16 142.46 246.86 142.69 248.5 142.92 250.09 143.15 251.64 143.38 253.14 143.61 254.6 143.84 256.02 144.07 257.4 144.3 258.74 144.53 260.05 144.76 261.33 144.99 262.58 145.22 263.79 145.45 264.98 145.68 266.15 145.91 267.28 146.14 268.39 146.37 269.48 146.6 270.55 146.83 271.59 147.07 272.62 147.3 273.62 147.53 274.61 147.76 275.57 147.99 276.52 148.22 277.45 148.45 278.37 148.68 279.27 148.91 280.15 149.14 281.02 149.37 281.87 149.6 282.71 149.83 283.54 150.06 284.35 150.29 285.15 150.52 285.94 150.75 286.72 150.98 287.48 151.21 288.24 151.44 288.98 151.67 289.71 151.9 290.44 152.13 291.15 152.36 291.85 152.6 292.55 152.83 293.23 153.06 293.9 153.29 294.57 153.52 295.23 153.75 295.88 153.98 296.52 154.21 297.15 154.44 297.78 154.67 298.4 154.9 299.01 155.13 299.61 155.36 300.21 155.59 300.8 155.82 301.38 156.05 301.96 156.28 302.53 156.51 303.09 156.74 303.65 156.97 304.2 157.2 304.75 157.43 305.29 157.66 305.83 157.9 306.36 158.13 306.88 158.36 307.4 158.59 307.91 158.82 308.42 159.05 308.92 159.28 309.42 159.51 309.92 159.74 310.41 159.97 310.89 160.2 311.37 160.43 311.85 160.66 312.32 160.89 312.79 161.12 313.25 161.35 313.71 161.58 314.16 161.81 314.61 162.04 315.06 162.27 315.5 162.5 315.94 162.73 316.38 162.96 316.81 163.19 317.24 163.43 317.66 163.66 318.08 163.89 318.5 164.12 318.92 164.35 319.33 164.58 319.73 164.81 320.14 165.04 320.54 165.27 320.94 165.5 321.33 165.73 321.73 165.96 322.12 166.19 322.5 166.42 322.89 166.65 323.27 166.88 323.65 167.11 324.02 167.34 324.39 167.57 324.76 167.8 325.13 168.03 325.49 168.26 325.86 168.49 326.22 168.72 326.57 168.96 326.93 169.19 327.28 169.42 327.63 169.65 327.98 169.88 328.32 170.11 328.67 170.34 329.01 170.57 329.34 170.8 329.68 171.03 330.01 171.26 330.35 171.49 330.68 173.48 333.44 175.48 336.07 177.47 338.57 179.47 340.95 181.46 343.23 183.46 345.41 185.45 347.51 187.44 349.52 189.44 351.45 191.43 353.32 193.43 355.12 195.42 356.86 197.42 358.54 199.41 360.17 201.41 361.75 203.4 363.28 205.39 364.77 207.39 366.21 209.38 367.62 211.38 368.99 213.37 370.32 215.37 371.62 217.36 372.88 219.35 374.12 221.35 375.32 223.34 376.5 225.34 377.66 227.33 378.78 229.33 379.88 231.32 380.96 233.31 382.02 235.31 383.05 237.3 384.07 239.3 385.06 241.29 386.03 243.29 386.99 245.28 387.93 247.28 388.85 249.27 389.75 251.26 390.64 253.26 391.51 255.25 392.37 257.25 393.21 259.24 394.04 261.24 394.85 263.23 395.65 265.22 396.44 267.22 397.22 269.21 397.98 271.21 398.73 273.2 399.47 275.2 400.2 277.19 400.92 279.18 401.62 281.18 402.32 283.17 403 285.17 403.68 287.16 404.35 289.16 405 291.15 405.65 293.15 406.29 295.14 406.92 297.13 407.54 299.13 408.15 301.12 408.76 303.12 409.35 305.11 409.94 307.11 410.52 309.1 411.09 311.09 411.66 313.09 412.22 315.08 412.77 317.08 413.31 319.07 413.84 321.07 414.37 323.06 414.9 325.05 415.41 327.05 415.92 329.04 416.42 331.04 416.92 333.03 417.41 335.03 417.89 337.02 418.37 339.02 418.84 341.01 419.31 343 419.77 345 420.22 346.99 420.67 348.99 421.12 350.98 421.55 352.98 421.99 354.97 422.41 356.96 422.83 358.96 423.25 360.95 423.66 362.95 424.07 364.94 424.47 366.94 424.86 368.93 425.26 370.92 425.64 372.92 426.02 374.91 426.4 376.91 426.77 378.9 427.14 380.9 427.5 382.89 427.86 384.89 428.21 386.88 428.56 388.87 428.91 390.87 429.25 392.86 429.58 394.86 429.92 396.85 430.24 398.85 430.57 400.84 430.89 402.83 431.2 404.83 431.51 406.82 431.82 408.82 432.12 410.81 432.42 412.81 432.72 414.8 433.01 416.79 433.29 418.79 433.58 420.78 433.86 422.78 434.13 424.77 434.41 426.77 434.67 428.76 434.94 430.76 435.2 432.75 435.46 434.74 435.71 436.74 435.96 438.73 436.21 440.73 436.46 442.72 436.7 444.72 436.93 446.71 437.17 448.7 437.4 450.7 437.63 452.69 437.85 454.69 438.07 456.68 438.29 458.68 438.5 460.67 438.72 462.66 438.93 464.66 439.13 466.65 439.33 468.65 439.53 470.64 439.73 472.64 439.93 474.63 440.12 476.63 440.31 478.62 440.49 480.61 440.67 482.61 440.86 484.6 441.03 486.6 441.21 488.59 441.38 490.59 441.55 492.58 441.72 494.57 441.88 496.57 442.05 498.56 442.21 500.56 442.36 502.55 442.52 504.55 442.67 506.54 442.82 508.53 442.97 510.53 443.12 512.52 443.26 514.52 443.4 516.51 443.54 518.51 443.68 520.5 443.81 522.5 443.95 524.49 444.08 526.48 444.21 528.48 444.33 530.47 444.46 532.47 444.58 534.46 444.7 536.46 444.82 538.45 444.94 540.44 445.05 542.44 445.17 544.43 445.28 546.43 445.39 548.42 445.5 550.42 445.6 552.41 445.71 554.4 445.81 556.4 445.91 558.39 446.01 560.39 446.11 562.38 446.21 564.38 446.3 566.37 446.4 568.37 446.49 570.36 446.58 572.35 446.67 574.35 446.76 576.34 446.84 578.34 446.93 580.33 447.01 582.33 447.09 584.32 447.17 586.31 447.25 588.31 447.33 590.3 447.41 592.3 447.48 594.29 447.56 596.29 447.63 598.28 447.7 600.27 447.78 602.27 447.85 604.26 447.91 606.26 447.98 608.25 448.05 610.25 448.11 612.24 448.18 614.24 448.24 616.23 448.3 618.22 448.37 620.22 448.43 622.21 448.49 624.21 448.54 626.2 448.6 628.2 448.66 630.19 448.71 632.18 448.77 634.18 448.82 636.17 448.87 638.17 448.93 640.16 448.98 642.16 449.03 644.15 449.08 646.14 449.13 648.14 449.17 650.13 449.22 652.13 449.27 654.12 449.31 656.12 449.36 658.11 449.4 660.11 449.45 662.1 449.49 664.09 449.53 666.09 449.57 668.08 449.61 670.08 449.65 672.07 449.69 674.07 449.73 676.06 449.77 678.05 449.81 680.05 449.84 682.04 449.88 684.04 449.92 686.03 449.95 688.03 449.98 690.02 450.02 692.01 450.05 694.01 450.08 696 450.12 698 450.15 699.99 450.18 701.99 450.21 703.98 450.24 705.98 450.27 707.97 450.29 709.96 450.32 711.96 450.35 713.95 450.38 715.95 450.4 717.94 450.43 719.94 450.46 721.93 450.48 723.92 450.51 725.92 450.53 727.91 450.56 729.91 450.58 731.9 450.61 733.9 450.63 735.89 450.65 737.88 450.68 739.88 450.7 741.87 450.72 743.87 450.74 745.86 450.76 747.86 450.79 749.85 450.81 751.85 450.83 753.84 450.85 755.83 450.87 757.83 450.89 759.82 450.91 761.82 450.93 763.81 450.95 765.81 450.96 767.8 450.98" stroke="#000" stroke-width="1.3" fill="none" stroke-linejoin="round" stroke-dasharray="10.5 8.1" stroke-dashoffset="-3.8"/>
</g>
<g clip-path="url(#cA)">
<path d="M136.8 45.8 136.8 120 136.9 158.5" stroke="#000" stroke-width="1.3" fill="none" stroke-linejoin="round" stroke-dasharray="10.5 8.1"/>
</g>
<path d="M169.3 85.0V57M146 85.0H716" stroke="#ff1414" stroke-width="1.4" fill="none" stroke-linecap="butt"/>
<path d="M165.2 74.7L169.3 55.6L173.3 74.7M164.2 81.0L144.6 85.0L164.2 89.2M704.2 80.7L724 84.95L704.2 89.6" stroke="#ff1414" stroke-width="1.65" fill="none" stroke-linecap="butt" stroke-linejoin="round"/>
<circle cx="169.3" cy="85.1" r="2.5" fill="#ff1414"/>
<path d="M301.11 687.06 303.25 685.99 306.45 682.79 306.45 705.2M305.38 683.86 305.38 705.2M301.11 705.2 310.71 705.2M325.65 682.79 322.45 683.86 320.32 687.06 319.25 692.4 319.25 695.6 320.32 700.93 322.45 704.13 325.65 705.2 327.79 705.2 330.99 704.13 333.12 700.93 334.19 695.6 334.19 692.4 333.12 687.06 330.99 683.86 327.79 682.79 325.65 682.79M325.65 682.79 323.52 683.86 322.45 684.93 321.38 687.06 320.32 692.4 320.32 695.6 321.38 700.93 322.45 703.07 323.52 704.13 325.65 705.2M327.79 705.2 329.92 704.13 330.99 703.07 332.05 700.93 333.12 695.6 333.12 692.4 332.05 687.06 330.99 684.93 329.92 683.86 327.79 682.79" stroke="#000" stroke-width="1.25" fill="none" stroke-linecap="butt" stroke-linejoin="round"/>
<path d="M479.68 687.06 480.74 688.13 479.68 689.2 478.61 688.13 478.61 687.06 479.68 684.93 480.74 683.86 483.95 682.79 488.21 682.79 491.41 683.86 492.48 684.93 493.55 687.06 493.55 689.2 492.48 691.33 489.28 693.46 483.95 695.6 481.81 696.66 479.68 698.8 478.61 702 478.61 705.2M488.21 682.79 490.35 683.86 491.41 684.93 492.48 687.06 492.48 689.2 491.41 691.33 488.21 693.46 483.95 695.6M478.61 703.07 479.68 702 481.81 702 487.15 704.13 490.35 704.13 492.48 703.07 493.55 702M481.81 702 487.15 705.2 491.41 705.2 492.48 704.13 493.55 702 493.55 699.87M506.35 682.79 503.15 683.86 501.02 687.06 499.95 692.4 499.95 695.6 501.02 700.93 503.15 704.13 506.35 705.2 508.49 705.2 511.69 704.13 513.82 700.93 514.89 695.6 514.89 692.4 513.82 687.06 511.69 683.86 508.49 682.79 506.35 682.79M506.35 682.79 504.22 683.86 503.15 684.93 502.08 687.06 501.02 692.4 501.02 695.6 502.08 700.93 503.15 703.07 504.22 704.13 506.35 705.2M508.49 705.2 510.62 704.13 511.69 703.07 512.75 700.93 513.82 695.6 513.82 692.4 512.75 687.06 511.69 684.93 510.62 683.86 508.49 682.79" stroke="#000" stroke-width="1.25" fill="none" stroke-linecap="butt" stroke-linejoin="round"/>
<path d="M660.38 687.06 661.44 688.13 660.38 689.2 659.31 688.13 659.31 687.06 660.38 684.93 661.44 683.86 664.65 682.79 668.91 682.79 672.11 683.86 673.18 685.99 673.18 689.2 672.11 691.33 668.91 692.4 665.71 692.4M668.91 682.79 671.05 683.86 672.11 685.99 672.11 689.2 671.05 691.33 668.91 692.4M668.91 692.4 671.05 693.46 673.18 695.6 674.25 697.73 674.25 700.93 673.18 703.07 672.11 704.13 668.91 705.2 664.65 705.2 661.44 704.13 660.38 703.07 659.31 700.93 659.31 699.87 660.38 698.8 661.44 699.87 660.38 700.93M672.11 694.53 673.18 697.73 673.18 700.93 672.11 703.07 671.05 704.13 668.91 705.2M687.05 682.79 683.85 683.86 681.72 687.06 680.65 692.4 680.65 695.6 681.72 700.93 683.85 704.13 687.05 705.2 689.19 705.2 692.39 704.13 694.52 700.93 695.59 695.6 695.59 692.4 694.52 687.06 692.39 683.86 689.19 682.79 687.05 682.79M687.05 682.79 684.92 683.86 683.85 684.93 682.78 687.06 681.72 692.4 681.72 695.6 682.78 700.93 683.85 703.07 684.92 704.13 687.05 705.2M689.19 705.2 691.32 704.13 692.39 703.07 693.45 700.93 694.52 695.6 694.52 692.4 693.45 687.06 692.39 684.93 691.32 683.86 689.19 682.79" stroke="#000" stroke-width="1.25" fill="none" stroke-linecap="butt" stroke-linejoin="round"/>
<path d="M104.06 148.32 100.86 149.39 98.73 152.59 97.66 157.92 97.66 161.12 98.73 166.46 100.86 169.66 104.06 170.73 106.2 170.73 109.4 169.66 111.53 166.46 112.6 161.12 112.6 157.92 111.53 152.59 109.4 149.39 106.2 148.32 104.06 148.32M104.06 148.32 101.93 149.39 100.86 150.45 99.8 152.59 98.73 157.92 98.73 161.12 99.8 166.46 100.86 168.59 101.93 169.66 104.06 170.73M106.2 170.73 108.33 169.66 109.4 168.59 110.47 166.46 111.53 161.12 111.53 157.92 110.47 152.59 109.4 150.45 108.33 149.39 106.2 148.32" stroke="#000" stroke-width="1.25" fill="none" stroke-linecap="butt" stroke-linejoin="round"/>
<path d="M70.99 309.44 90.19 309.44M99.8 296.64 97.66 307.31M97.66 307.31 99.8 305.17 103 304.1 106.2 304.1 109.4 305.17 111.53 307.31 112.6 310.51 112.6 312.64 111.53 315.84 109.4 317.98 106.2 319.04 103 319.04 99.8 317.98 98.73 316.91 97.66 314.77 97.66 313.71 98.73 312.64 99.8 313.71 98.73 314.77M106.2 304.1 108.33 305.17 110.47 307.31 111.53 310.51 111.53 312.64 110.47 315.84 108.33 317.98 106.2 319.04M99.8 296.64 110.47 296.64M99.8 297.7 105.13 297.7 110.47 296.64" stroke="#000" stroke-width="1.25" fill="none" stroke-linecap="butt" stroke-linejoin="round"/>
<path d="M49.65 457.76 68.85 457.76M79.52 449.22 81.66 448.15 84.86 444.95 84.86 467.36M83.79 446.02 83.79 467.36M79.52 467.36 89.12 467.36M104.06 444.95 100.86 446.02 98.73 449.22 97.66 454.56 97.66 457.76 98.73 463.09 100.86 466.29 104.06 467.36 106.2 467.36 109.4 466.29 111.53 463.09 112.6 457.76 112.6 454.56 111.53 449.22 109.4 446.02 106.2 444.95 104.06 444.95M104.06 444.95 101.93 446.02 100.86 447.09 99.8 449.22 98.73 454.56 98.73 457.76 99.8 463.09 100.86 465.23 101.93 466.29 104.06 467.36M106.2 467.36 108.33 466.29 109.4 465.23 110.47 463.09 111.53 457.76 111.53 454.56 110.47 449.22 109.4 447.09 108.33 446.02 106.2 444.95" stroke="#000" stroke-width="1.25" fill="none" stroke-linecap="butt" stroke-linejoin="round"/>
<path d="M49.65 606.07 68.85 606.07M79.52 597.54 81.66 596.47 84.86 593.27 84.86 615.68M83.79 594.34 83.79 615.68M79.52 615.68 89.12 615.68M99.8 593.27 97.66 603.94M97.66 603.94 99.8 601.81 103 600.74 106.2 600.74 109.4 601.81 111.53 603.94 112.6 607.14 112.6 609.27 111.53 612.48 109.4 614.61 106.2 615.68 103 615.68 99.8 614.61 98.73 613.54 97.66 611.41 97.66 610.34 98.73 609.27 99.8 610.34 98.73 611.41M106.2 600.74 108.33 601.81 110.47 603.94 111.53 607.14 111.53 609.27 110.47 612.48 108.33 614.61 106.2 615.68M99.8 593.27 110.47 593.27M99.8 594.34 105.13 594.34 110.47 593.27" stroke="#000" stroke-width="1.25" fill="none" stroke-linecap="butt" stroke-linejoin="round"/>
<path d="M399.61 729.3 401.72 729.3 403.83 730.35 404.89 731.4 405.95 733.5 412.29 748.2 413.35 750.3 414.4 751.35M401.72 729.3 403.83 731.4 404.89 733.5 411.23 748.2 412.29 750.3 414.4 751.35 415.46 751.35M407.01 736.65 398.55 751.35M407.01 736.65 399.61 751.35M429.2 725.1 427.09 727.2 424.97 730.35 422.86 734.55 421.8 739.8 421.8 744 422.86 749.25 424.97 753.45 427.09 756.6 429.2 758.7M427.09 727.2 424.97 731.4 423.92 734.55 422.86 739.8 422.86 744 423.92 749.25 424.97 752.4 427.09 756.6M439.77 736.65 433.43 758.7M440.83 736.65 434.49 758.7M439.77 739.8 438.72 746.1 438.72 749.25 440.83 751.35 442.94 751.35 445.06 750.3 447.17 748.2 449.29 745.05M451.4 736.65 448.23 748.2 448.23 750.3 449.29 751.35 452.46 751.35 454.57 749.25 455.63 747.15M452.46 736.65 449.29 748.2 449.29 750.3 450.34 751.35M461.97 736.65 461.97 751.35M463.03 736.65 463.03 751.35M463.03 739.8 465.14 737.7 468.31 736.65 470.43 736.65 473.6 737.7 474.65 739.8 474.65 751.35M470.43 736.65 472.54 737.7 473.6 739.8 473.6 751.35M474.65 739.8 476.77 737.7 479.94 736.65 482.05 736.65 485.22 737.7 486.28 739.8 486.28 751.35M482.05 736.65 484.17 737.7 485.22 739.8 485.22 751.35M458.8 736.65 463.03 736.65M458.8 751.35 466.2 751.35M470.43 751.35 477.82 751.35M482.05 751.35 489.45 751.35M494.74 725.1 496.85 727.2 498.96 730.35 501.08 734.55 502.14 739.8 502.14 744 501.08 749.25 498.96 753.45 496.85 756.6 494.74 758.7M496.85 727.2 498.96 731.4 500.02 734.55 501.08 739.8 501.08 744 500.02 749.25 498.96 752.4 496.85 756.6" stroke="#000" stroke-width="1.25" fill="none" stroke-linecap="butt" stroke-linejoin="round"/>
<path d="M8 522.45 31 522.45M8 521.38 31 521.38M8 525.66 8 521.38M31 525.66 31 518.17M15.67 506.38 16.76 509.6 18.95 511.74 22.24 512.81 24.43 512.81 27.71 511.74 29.9 509.6 31 506.38 31 504.24 29.9 501.03 27.71 498.89 24.43 497.82 22.24 497.82 18.95 498.89 16.76 501.03 15.67 504.24 15.67 506.38M15.67 506.38 16.76 508.53 18.95 510.67 22.24 511.74 24.43 511.74 27.71 510.67 29.9 508.53 31 506.38M31 504.24 29.9 502.1 27.71 499.96 24.43 498.89 22.24 498.89 18.95 499.96 16.76 502.1 15.67 504.24M15.67 486.04 16.76 488.18 17.86 489.25 20.05 490.32 22.24 490.32 24.43 489.25 25.52 488.18 26.62 486.04 26.62 483.89 25.52 481.75 24.43 480.68 22.24 479.61 20.05 479.61 17.86 480.68 16.76 481.75 15.67 483.89 15.67 486.04M16.76 488.18 18.95 489.25 23.33 489.25 25.52 488.18M25.52 481.75 23.33 480.68 18.95 480.68 16.76 481.75M17.86 480.68 16.76 479.61 15.67 477.47 16.76 477.47 16.76 479.61M24.43 489.25 25.52 490.32 27.71 491.39 28.81 491.39 31 490.32 32.09 487.11 32.09 481.75 33.19 478.54 34.28 477.47M28.81 491.39 29.9 490.32 31 487.11 31 481.75 32.09 478.54 34.28 477.47 35.38 477.47 37.57 478.54 38.66 481.75 38.66 488.18 37.57 491.39 35.38 492.46 34.28 492.46 32.09 491.39 31 488.18M3.62 445.34 5.81 447.48 9.1 449.62 13.48 451.76 18.95 452.83 23.33 452.83 28.81 451.76 33.19 449.62 36.47 447.48 38.66 445.34M5.81 447.48 10.19 449.62 13.48 450.69 18.95 451.76 23.33 451.76 28.81 450.69 32.09 449.62 36.47 447.48M15.67 435.7 31 439.98M15.67 434.63 31 438.91M15.67 424.99 16.76 423.92 16.76 422.85 15.67 423.92 15.67 426.06 16.76 428.2 21.14 432.49 22.24 434.63 22.24 436.77M22.24 434.63 23.33 432.49 29.9 430.34 31 429.27M22.24 434.63 23.33 433.56 29.9 431.41 31 430.34 31 428.2 29.9 426.06 26.62 423.92M27.28 416.85 27.93 417.49 28.59 416.85 27.93 416.21 27.28 416.85M31.88 416.21 43.7 416.21 45.02 416.85 45.67 418.13 45.67 419.42 45.02 420.06 44.36 420.06 43.7 419.42 44.36 418.78 45.02 419.42M31.88 416.85 43.7 416.85 45.02 417.49 45.67 418.13M31.88 418.78 31.88 416.21M3.62 392.22 38.66 411.49M3.62 385.79 38.66 385.79M3.62 384.72 38.66 384.72M3.62 385.79 3.62 378.29M38.66 385.79 38.66 378.29M18.95 359.01 20.05 360.09 21.14 359.01 20.05 357.94 18.95 357.94 16.77 360.09 15.67 362.23 15.67 365.44 16.77 368.65 18.95 370.8 22.24 371.87 24.43 371.87 27.71 370.8 29.91 368.65 31 365.44 31 363.3 29.91 360.09 27.71 357.94M15.67 365.44 16.77 367.58 18.95 369.72 22.24 370.8 24.43 370.8 27.71 369.72 29.91 367.58 31 365.44M15.67 349.38 31 349.38M15.67 348.3 31 348.3M18.95 348.3 16.77 346.16 15.67 342.95 15.67 340.81 16.77 337.59 18.96 336.52 31 336.52M15.67 340.81 16.77 338.67 18.96 337.59 31 337.59M18.96 336.52 16.77 334.38 15.67 331.17 15.67 329.03 16.77 325.81 18.96 324.74 31 324.74M15.67 329.03 16.77 326.88 18.96 325.81 31 325.81M15.67 352.59 15.67 348.3M31 352.59 31 345.09M31 340.81 31 333.31M31 329.03 31 321.53M9.54 316.82 10.2 316.17 10.85 316.82 10.2 317.46 9.54 317.46 8.22 316.82 7.57 316.17 6.91 314.25 6.91 311.68 7.57 309.75 8.22 309.11 9.54 308.46 10.85 308.46 12.17 309.11 13.48 311.03 14.79 314.25 15.45 315.53 16.77 316.82 18.74 317.46 20.71 317.46M6.91 311.68 7.57 310.39 8.22 309.75 9.54 309.11 10.85 309.11 12.17 309.75 13.48 311.68 14.79 314.25M19.39 317.46 18.74 316.82 18.74 315.53 20.05 312.32 20.05 310.39 19.39 309.11 18.74 308.46M18.74 315.53 20.71 312.32 20.71 309.75 20.05 309.11 18.74 308.46 17.42 308.46M15.67 280.83 16.77 282.97 17.86 284.04 20.05 285.12 22.24 285.12 24.43 284.04 25.53 282.97 26.62 280.83 26.62 278.69 25.53 276.55 24.43 275.48 22.24 274.41 20.05 274.41 17.86 275.48 16.77 276.55 15.67 278.69 15.67 280.83M16.77 282.97 18.96 284.04 23.34 284.04 25.53 282.97M25.53 276.55 23.34 275.48 18.96 275.48 16.77 276.55M17.86 275.48 16.77 274.41 15.67 272.26 16.77 272.26 16.77 274.41M24.43 284.04 25.53 285.12 27.72 286.19 28.81 286.19 31 285.12 32.1 281.9 32.1 276.55 33.19 273.33 34.29 272.26M28.81 286.19 29.91 285.12 31 281.9 31 276.55 32.1 273.33 34.29 272.26 35.38 272.26 37.57 273.33 38.67 276.55 38.67 282.97 37.57 286.19 35.38 287.26 34.29 287.26 32.1 286.19 31 282.97M15.67 263.7 31 263.7M15.67 262.62 31 262.62M22.24 262.62 18.96 261.55 16.77 259.41 15.67 257.27 15.67 254.06 16.77 252.99 17.86 252.99 18.96 254.06 17.86 255.13 16.77 254.06M15.67 266.91 15.67 262.62M31 266.91 31 259.41M14.79 248.27 14.79 236.71M9.54 230.28 8.88 229 6.91 227.07 20.71 227.07M7.57 227.71 20.71 227.71M20.71 230.28 20.71 224.5M3.63 211.64 38.67 211.64M3.63 210.57 38.67 210.57M3.63 218.07 3.63 210.57M38.67 218.07 38.67 210.57M3.63 203.08 5.82 200.93 9.1 198.79 13.48 196.65 18.96 195.58 23.34 195.58 28.81 196.65 33.19 198.79 36.48 200.93 38.67 203.08M5.82 200.93 10.2 198.79 13.48 197.72 18.96 196.65 23.34 196.65 28.81 197.72 32.1 198.79 36.48 200.93" stroke="#000" stroke-width="1.25" fill="none" stroke-linecap="butt" stroke-linejoin="round"/>
<path d="M479.5 27.81 477.37 25.68 475.24 24.61 470.97 24.61 468.83 25.68 468.83 27.81 470.97 29.95 474.17 31.01M470.97 24.61 469.9 25.68 469.9 27.81 472.04 29.95 474.17 31.01M474.17 31.01 468.83 32.08 466.7 34.21 466.7 36.35 467.77 38.48 470.97 39.55 474.17 39.55 476.3 38.48 478.44 36.35M474.17 31.01 469.9 32.08 467.77 34.21 467.77 36.35 468.83 38.48 470.97 39.55M486.44 35.92 486.44 49.37M487.08 35.92 487.08 49.37M484.52 35.92 489 35.92M484.52 49.37 494.12 49.37 494.12 45.53 493.48 49.37M497.96 35.92 497.32 36.56 497.96 37.2 498.6 36.56 497.96 35.92M497.96 40.4 497.96 49.37M498.6 40.4 498.6 49.37M496.04 40.4 498.6 40.4M496.04 49.37 500.52 49.37M523.15 12.88 503.94 47.02M541.28 27.81 539.15 25.68 537.02 24.61 532.75 24.61 530.61 25.68 530.61 27.81 532.75 29.95 535.95 31.01M532.75 24.61 531.68 25.68 531.68 27.81 533.82 29.95 535.95 31.01M535.95 31.01 530.61 32.08 528.48 34.21 528.48 36.35 529.55 38.48 532.75 39.55 535.95 39.55 538.08 38.48 540.22 36.35M535.95 31.01 531.68 32.08 529.55 34.21 529.55 36.35 530.61 38.48 532.75 39.55M547.69 35.92 547.69 49.37M548.33 35.92 548.33 49.37M556.01 35.92 556.01 49.37M556.65 35.92 556.65 49.37M545.77 35.92 550.25 35.92M554.09 35.92 558.57 35.92M548.33 42.32 556.01 42.32M545.77 49.37 550.25 49.37M554.09 49.37 558.57 49.37M564.12 26.75 583.32 26.75M564.12 33.15 583.32 33.15M600.4 19.28 600.4 39.55M601.46 17.14 601.46 39.55M601.46 17.14 589.73 33.15 606.8 33.15M597.2 39.55 604.66 39.55M614.27 37.42 613.2 38.48 614.27 39.55 615.33 38.48 614.27 37.42M626 21.41 628.14 20.34 631.34 17.14 631.34 39.55M630.27 18.21 630.27 39.55M626 39.55 635.61 39.55M646.28 17.14 644.14 27.81M644.14 27.81 646.28 25.68 649.48 24.61 652.68 24.61 655.88 25.68 658.01 27.81 659.08 31.01 659.08 33.15 658.01 36.35 655.88 38.48 652.68 39.55 649.48 39.55 646.28 38.48 645.21 37.42 644.14 35.28 644.14 34.21 645.21 33.15 646.28 34.21 645.21 35.28M652.68 24.61 654.81 25.68 656.95 27.81 658.01 31.01 658.01 33.15 656.95 36.35 654.81 38.48 652.68 39.55M646.28 17.14 656.95 17.14M646.28 18.21 651.61 18.21 656.95 17.14M666.55 22.48 681.49 37.42M681.49 22.48 666.55 37.42M692.16 21.41 694.29 20.34 697.49 17.14 697.49 39.55M696.43 18.21 696.43 39.55M692.16 39.55 701.76 39.55M716.7 17.14 713.5 18.21 711.36 21.41 710.3 26.75 710.3 29.95 711.36 35.28 713.5 38.48 716.7 39.55 718.83 39.55 722.03 38.48 724.17 35.28 725.24 29.95 725.24 26.75 724.17 21.41 722.03 18.21 718.83 17.14 716.7 17.14M716.7 17.14 714.57 18.21 713.5 19.28 712.43 21.41 711.36 26.75 711.36 29.95 712.43 35.28 713.5 37.42 714.57 38.48 716.7 39.55M718.83 39.55 720.97 38.48 722.03 37.42 723.1 35.28 724.17 29.95 724.17 26.75 723.1 21.41 722.03 19.28 720.97 18.21 718.83 17.14M731 23.76 742.52 23.76M748.92 18.64 750.2 18 752.12 16.08 752.12 29.52M751.48 16.72 751.48 29.52M748.92 29.52 754.68 29.52M763.65 16.08 761.73 16.72 760.45 18.64 759.81 21.84 759.81 23.76 760.45 26.96 761.73 28.88 763.65 29.52 764.93 29.52 766.85 28.88 768.13 26.96 768.77 23.76 768.77 21.84 768.13 18.64 766.85 16.72 764.93 16.08 763.65 16.08M763.65 16.08 762.37 16.72 761.73 17.36 761.09 18.64 760.45 21.84 760.45 23.76 761.09 26.96 761.73 28.24 762.37 28.88 763.65 29.52M764.93 29.52 766.21 28.88 766.85 28.24 767.49 26.96 768.13 23.76 768.13 21.84 767.49 18.64 766.85 17.36 766.21 16.72 764.93 16.08" stroke="#000" stroke-width="1.25" fill="none" stroke-linecap="butt" stroke-linejoin="round"/>
<path d="M158.2 258.65 158.2 276.6M159.06 258.65 159.06 276.6M155.62 258.65 165.94 258.65 168.52 259.5 169.38 260.36 170.24 262.06 170.24 263.78 169.38 265.49 168.52 266.34 165.94 267.2 159.06 267.2M165.94 258.65 167.66 259.5 168.52 260.36 169.38 262.06 169.38 263.78 168.52 265.49 167.66 266.34 165.94 267.2M155.62 276.6 161.64 276.6M163.36 267.2 165.08 268.05 165.94 268.91 168.52 274.89 169.38 275.75 170.24 275.75 171.1 274.89M165.08 268.05 165.94 269.76 167.66 275.75 168.52 276.6 170.24 276.6 171.1 274.89 171.1 274.04M177.12 266.34 177.12 267.2 176.26 267.2 176.26 266.34 177.12 265.49 178.84 264.63 182.28 264.63 184 265.49 184.86 266.34 185.72 268.05 185.72 274.04 186.58 275.75 187.44 276.6M184.86 266.34 184.86 274.04 185.72 275.75 187.44 276.6 188.3 276.6M184.86 268.05 184 268.91 178.84 269.76 176.26 270.62 175.4 272.33 175.4 274.04 176.26 275.75 178.84 276.6 181.42 276.6 183.14 275.75 184.86 274.04M178.84 269.76 177.12 270.62 176.26 272.33 176.26 274.04 177.12 275.75 178.84 276.6M193.46 264.63 198.62 276.6M194.32 264.63 198.62 274.89M203.78 264.63 198.62 276.6 196.9 280.02 195.18 281.73 193.46 282.59 192.6 282.59 191.74 281.73 192.6 280.88 193.46 281.73M191.74 264.63 196.9 264.63M200.34 264.63 205.5 264.63M215.82 255.23 214.1 256.94 212.38 259.5 210.66 262.92 209.8 267.2 209.8 270.62 210.66 274.89 212.38 278.31 214.1 280.88 215.82 282.59M214.1 256.94 212.38 260.36 211.52 262.92 210.66 267.2 210.66 270.62 211.52 274.89 212.38 277.46 214.1 280.88M222.7 258.65 222.7 276.6M223.56 258.65 223.56 276.6M233.88 258.65 233.88 276.6M234.74 258.65 234.74 276.6M220.12 258.65 226.14 258.65M231.3 258.65 237.32 258.65M223.56 267.2 233.88 267.2M220.12 276.6 226.14 276.6M231.3 276.6 237.32 276.6M241.62 255.23 243.34 256.94 245.06 259.5 246.78 262.92 247.64 267.2 247.64 270.62 246.78 274.89 245.06 278.31 243.34 280.88 241.62 282.59M243.34 256.94 245.06 260.36 245.92 262.92 246.78 267.2 246.78 270.62 245.92 274.89 245.06 277.46 243.34 280.88" stroke="#b8002e" stroke-width="1.3" fill="none" stroke-linecap="butt" stroke-linejoin="round"/>
<path d="M626.24 428.06 636.56 428.06 636.56 426.35 635.7 424.64 634.84 423.78 633.12 422.93 630.54 422.93 627.96 423.78 626.24 425.5 625.38 428.06 625.38 429.77 626.24 432.33 627.96 434.04 630.54 434.9 632.26 434.9 634.84 434.04 636.56 432.33M635.7 428.06 635.7 425.5 634.84 423.78M630.54 422.93 628.82 423.78 627.1 425.5 626.24 428.06 626.24 429.77 627.1 432.33 628.82 434.04 630.54 434.9M641.2 422.25 650.49 422.25M674.06 416.94 674.06 434.9M674.92 416.94 674.92 434.9M668.9 416.94 668.04 422.07 668.04 416.94 680.94 416.94 680.94 422.07 680.08 416.94M671.48 434.9 677.5 434.9M686.96 416.94 686.96 434.9M687.82 416.94 687.82 434.9M687.82 425.5 689.54 423.78 692.12 422.93 693.84 422.93 696.42 423.78 697.28 425.5 697.28 434.9M693.84 422.93 695.56 423.78 696.42 425.5 696.42 434.9M684.38 416.94 687.82 416.94M684.38 434.9 690.4 434.9M693.84 434.9 699.86 434.9M705.88 433.19 705.02 434.04 705.88 434.9 706.74 434.04 705.88 433.19" stroke="#ff0808" stroke-width="1.3" fill="none" stroke-linecap="butt" stroke-linejoin="round"/>
<path d="M373.7 469.3 373.7 487.25M374.56 469.3 374.56 487.25M371.12 469.3 381.44 469.3 384.02 470.15 384.88 471 385.74 472.71 385.74 474.43 384.88 476.13 384.02 476.99 381.44 477.85 374.56 477.85M381.44 469.3 383.16 470.15 384.02 471 384.88 472.71 384.88 474.43 384.02 476.13 383.16 476.99 381.44 477.85M371.12 487.25 377.14 487.25M378.86 477.85 380.58 478.7 381.44 479.56 384.02 485.54 384.88 486.39 385.74 486.39 386.6 485.54M380.58 478.7 381.44 480.41 383.16 486.39 384.02 487.25 385.74 487.25 386.6 485.54 386.6 484.69M392.62 476.99 392.62 477.85 391.76 477.85 391.76 476.99 392.62 476.13 394.34 475.28 397.78 475.28 399.5 476.13 400.36 476.99 401.22 478.7 401.22 484.69 402.08 486.39 402.94 487.25M400.36 476.99 400.36 484.69 401.22 486.39 402.94 487.25 403.8 487.25M400.36 478.7 399.5 479.56 394.34 480.41 391.76 481.26 390.9 482.98 390.9 484.69 391.76 486.39 394.34 487.25 396.92 487.25 398.64 486.39 400.36 484.69M394.34 480.41 392.62 481.26 391.76 482.98 391.76 484.69 392.62 486.39 394.34 487.25M408.96 475.28 414.12 487.25M409.82 475.28 414.12 485.54M419.28 475.28 414.12 487.25 412.4 490.67 410.68 492.38 408.96 493.24 408.1 493.24 407.24 492.38 408.1 491.52 408.96 492.38M407.24 475.28 412.4 475.28M415.84 475.28 421 475.28M431.32 465.88 429.6 467.58 427.88 470.15 426.16 473.57 425.3 477.85 425.3 481.26 426.16 485.54 427.88 488.96 429.6 491.52 431.32 493.24M429.6 467.58 427.88 471 427.02 473.57 426.16 477.85 426.16 481.26 427.02 485.54 427.88 488.11 429.6 491.52M438.2 469.3 438.2 487.25M439.06 469.3 439.06 487.25M449.38 469.3 449.38 487.25M450.24 469.3 450.24 487.25M435.62 469.3 441.64 469.3M446.8 469.3 452.82 469.3M439.06 477.85 449.38 477.85M435.62 487.25 441.64 487.25M446.8 487.25 452.82 487.25M457.98 480.41 468.3 480.41 468.3 478.7 467.44 476.99 466.58 476.13 464.86 475.28 462.28 475.28 459.7 476.13 457.98 477.85 457.12 480.41 457.12 482.12 457.98 484.69 459.7 486.39 462.28 487.25 464 487.25 466.58 486.39 468.3 484.69M467.44 480.41 467.44 477.85 466.58 476.13M462.28 475.28 460.56 476.13 458.84 477.85 457.98 480.41 457.98 482.12 458.84 484.69 460.56 486.39 462.28 487.25M473.46 465.88 475.18 467.58 476.9 470.15 478.62 473.57 479.48 477.85 479.48 481.26 478.62 485.54 476.9 488.96 475.18 491.52 473.46 493.24M475.18 467.58 476.9 471 477.76 473.57 478.62 477.85 478.62 481.26 477.76 485.54 476.9 488.11 475.18 491.52" stroke="#000" stroke-width="1.3" fill="none" stroke-linecap="butt" stroke-linejoin="round"/>
<path d="M150.1 474.15 150.1 492.1M150.96 474.15 150.96 492.1M147.52 474.15 157.84 474.15 160.42 475 161.28 475.86 162.14 477.56 162.14 479.28 161.28 480.99 160.42 481.84 157.84 482.7 150.96 482.7M157.84 474.15 159.56 475 160.42 475.86 161.28 477.56 161.28 479.28 160.42 480.99 159.56 481.84 157.84 482.7M147.52 492.1 153.54 492.1M155.26 482.7 156.98 483.55 157.84 484.41 160.42 490.39 161.28 491.25 162.14 491.25 163 490.39M156.98 483.55 157.84 485.26 159.56 491.25 160.42 492.1 162.14 492.1 163 490.39 163 489.54M169.02 481.84 169.02 482.7 168.16 482.7 168.16 481.84 169.02 480.99 170.74 480.13 174.18 480.13 175.9 480.99 176.76 481.84 177.62 483.55 177.62 489.54 178.48 491.25 179.34 492.1M176.76 481.84 176.76 489.54 177.62 491.25 179.34 492.1 180.2 492.1M176.76 483.55 175.9 484.41 170.74 485.26 168.16 486.12 167.3 487.83 167.3 489.54 168.16 491.25 170.74 492.1 173.32 492.1 175.04 491.25 176.76 489.54M170.74 485.26 169.02 486.12 168.16 487.83 168.16 489.54 169.02 491.25 170.74 492.1M185.36 480.13 190.52 492.1M186.22 480.13 190.52 490.39M195.68 480.13 190.52 492.1 188.8 495.52 187.08 497.23 185.36 498.09 184.5 498.09 183.64 497.23 184.5 496.38 185.36 497.23M183.64 480.13 188.8 480.13M192.24 480.13 197.4 480.13M207.72 470.73 206 472.44 204.28 475 202.56 478.42 201.7 482.7 201.7 486.12 202.56 490.39 204.28 493.81 206 496.38 207.72 498.09M206 472.44 204.28 475.86 203.42 478.42 202.56 482.7 202.56 486.12 203.42 490.39 204.28 492.96 206 496.38M214.6 474.15 214.6 492.1M215.46 474.15 215.46 492.1M225.78 474.15 225.78 492.1M226.64 474.15 226.64 492.1M212.02 474.15 218.04 474.15M223.2 474.15 229.22 474.15M215.46 482.7 225.78 482.7M212.02 492.1 218.04 492.1M223.2 492.1 229.22 492.1M233 491.25 233.52 491.76 233 492.27 232.49 491.76 232.49 491.25 233 490.22 233.52 489.71 235.07 489.19 237.13 489.19 238.68 489.71 239.2 490.22 239.71 491.25 239.71 492.27 239.2 493.3 237.65 494.32 235.07 495.35 234.04 495.86 233 496.89 232.49 498.43 232.49 499.97M237.13 489.19 238.16 489.71 238.68 490.22 239.2 491.25 239.2 492.27 238.68 493.3 237.13 494.32 235.07 495.35M232.49 498.94 233 498.43 234.04 498.43 236.62 499.45 238.16 499.45 239.2 498.94 239.71 498.43M234.04 498.43 236.62 499.97 238.68 499.97 239.2 499.45 239.71 498.43 239.71 497.4M243.84 470.73 245.56 472.44 247.28 475 249 478.42 249.86 482.7 249.86 486.12 249 490.39 247.28 493.81 245.56 496.38 243.84 498.09M245.56 472.44 247.28 475.86 248.14 478.42 249 482.7 249 486.12 248.14 490.39 247.28 492.96 245.56 496.38" stroke="#964800" stroke-width="1.3" fill="none" stroke-linecap="butt" stroke-linejoin="round"/>
<path d="M172.2 535.49 172.2 553.44M173.06 535.49 173.06 553.44M183.38 535.49 183.38 553.44M184.24 535.49 184.24 553.44M169.62 535.49 175.64 535.49M180.8 535.49 186.82 535.49M173.06 544.04 183.38 544.04M169.62 553.44 175.64 553.44M180.8 553.44 186.82 553.44M190.6 540.79 199.89 540.79" stroke="#0000ff" stroke-width="1.3" fill="none" stroke-linecap="butt" stroke-linejoin="round"/>
<path d="M252.5 568.34 252.5 586.3M253.36 568.34 253.36 586.3M263.68 568.34 263.68 586.3M264.54 568.34 264.54 586.3M249.92 568.34 255.94 568.34M261.1 568.34 267.12 568.34M253.36 576.89 263.68 576.89M249.92 586.3 255.94 586.3M261.1 586.3 267.12 586.3M272.28 579.46 282.6 579.46 282.6 577.75 281.74 576.04 280.88 575.18 279.16 574.33 276.58 574.33 274 575.18 272.28 576.89 271.42 579.46 271.42 581.17 272.28 583.73 274 585.44 276.58 586.3 278.3 586.3 280.88 585.44 282.6 583.73M281.74 579.46 281.74 576.89 280.88 575.18M276.58 574.33 274.86 575.18 273.14 576.89 272.28 579.46 272.28 581.17 273.14 583.73 274.86 585.44 276.58 586.3M287.24 573.65 296.53 573.65" stroke="#c8a000" stroke-width="1.3" fill="none" stroke-linecap="butt" stroke-linejoin="round"/>
<path d="M583.12 582.91 583.98 585.47 583.98 580.34 583.12 582.91 581.4 581.2 578.82 580.34 577.1 580.34 574.52 581.2 572.8 582.91 571.94 584.62 571.08 587.18 571.08 591.46 571.94 594.02 572.8 595.73 574.52 597.44 577.1 598.3 578.82 598.3 581.4 597.44 583.12 595.73 583.98 594.02M577.1 580.34 575.38 581.2 573.66 582.91 572.8 584.62 571.94 587.18 571.94 591.46 572.8 594.02 573.66 595.73 575.38 597.44 577.1 598.3M590.86 580.34 590.86 598.3M591.72 580.34 591.72 598.3M588.28 580.34 594.3 580.34M588.28 598.3 594.3 598.3M604.62 580.34 598.6 598.3M604.62 580.34 610.64 598.3M604.62 582.91 609.78 598.3M600.32 593.17 608.06 593.17M596.88 598.3 602.04 598.3M607.2 598.3 612.36 598.3" stroke="#8000ff" stroke-width="1.3" fill="none" stroke-linecap="butt" stroke-linejoin="round"/>
<path d="M428.6 615.75 428.6 633.7M429.46 615.75 429.46 633.7M439.78 615.75 439.78 633.7M440.64 615.75 440.64 633.7M426.02 615.75 432.04 615.75M437.2 615.75 443.22 615.75M429.46 624.3 439.78 624.3M426.02 633.7 432.04 633.7M437.2 633.7 443.22 633.7M447 632.85 447.52 633.36 447 633.87 446.49 633.36 446.49 632.85 447 631.82 447.52 631.31 449.07 630.79 451.13 630.79 452.68 631.31 453.2 631.82 453.71 632.85 453.71 633.87 453.2 634.9 451.65 635.92 449.07 636.95 448.04 637.46 447 638.49 446.49 640.03 446.49 641.57M451.13 630.79 452.16 631.31 452.68 631.82 453.2 632.85 453.2 633.87 452.68 634.9 451.13 635.92 449.07 636.95M446.49 640.54 447 640.03 448.04 640.03 450.62 641.05 452.16 641.05 453.2 640.54 453.71 640.03M448.04 640.03 450.62 641.57 452.68 641.57 453.2 641.05 453.71 640.03 453.71 639M447 621.05 456.29 621.05" stroke="#ff00ff" stroke-width="1.3" fill="none" stroke-linecap="butt" stroke-linejoin="round"/>
</svg>
</body></html>
